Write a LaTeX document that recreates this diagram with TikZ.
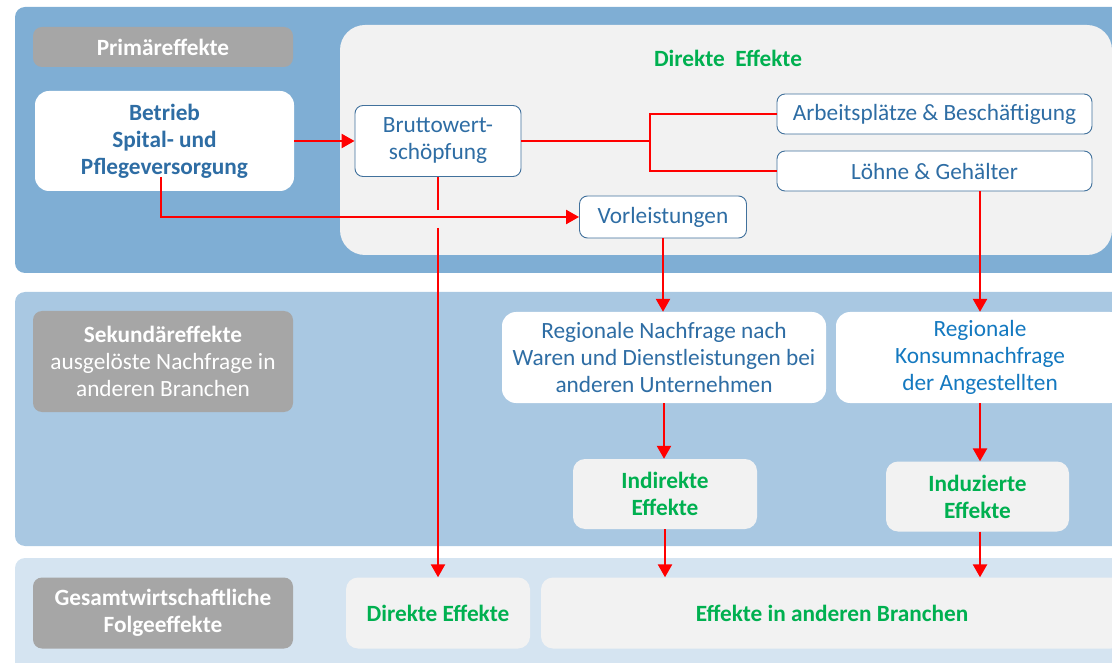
\documentclass[tikz,border=0pt]{standalone}
\usepackage{fontspec}
\setmainfont{Carlito}
\usetikzlibrary{arrows.meta}
\definecolor{bandA}{HTML}{7FAED4}
\definecolor{bandB}{HTML}{A9C8E2}
\definecolor{bandC}{HTML}{D5E4F1}
\definecolor{panelgray}{HTML}{F2F2F2}
\definecolor{lblgray}{HTML}{A6A6A6}
\definecolor{tblue}{HTML}{2E6DA4}
\definecolor{tcyan}{HTML}{1479C0}
\definecolor{tgreen}{HTML}{00B050}
\definecolor{bordblue}{HTML}{41719C}
\definecolor{arrred}{HTML}{FF0000}
\newcommand{\fsz}{\fontsize{23.3}{27}\selectfont}
\begin{document}
\begin{tikzpicture}[x=1pt,y=-1pt,
  band/.style={rounded corners=10pt},
  lbl/.style={fill=lblgray, rounded corners=9pt, text=white, font=\fsz, align=center, inner sep=0pt},
  wbox/.style={fill=white, rounded corners=14pt, align=center, inner sep=0pt, font=\fsz, text=tblue},
  bbox/.style={fill=white, draw=bordblue, line width=0.9pt, rounded corners=8pt, align=center, inner sep=0pt, font=\fsz, text=tblue},
  gbox/.style={fill=panelgray, rounded corners=12pt, align=center, inner sep=0pt, font=\fsz\bfseries, text=tgreen},
  ln/.style={draw=arrred, line width=2.5pt},
  arr/.style={draw=arrred, line width=2.5pt, -{Triangle[width=14pt,length=13pt]}}]
\useasboundingbox (0,0) rectangle (1112,663);
\clip (0,0) rectangle (1112,663);
% bands
\fill[bandA, band] (15,7) rectangle (1140,273);
\fill[bandB, band] (15,292) rectangle (1140,546);
\fill[bandC, band] (15,558) rectangle (1140,690);
\fill[panelgray, rounded corners=25pt] (340,25) rectangle (1112,255);
% labels
\node[lbl, minimum width=260pt, minimum height=40pt] (prim) at (163,47) {\bfseries Primäreffekte};
\node[lbl, minimum width=260pt, minimum height=101pt] (sek) at (163,361.5) {\textbf{Sekundäreffekte}\\ausgelöste Nachfrage in\\anderen Branchen};
\node[lbl, minimum width=260pt, minimum height=71pt] (ges) at (163,613) {\bfseries Gesamtwirtschaftliche\\\bfseries Folgeeffekte};
% primary
\node[wbox, minimum width=259pt, minimum height=100pt, font=\fsz\bfseries] (betrieb) at (164.5,141) {Betrieb\\Spital- und\\Pflegeversorgung};
\node[bbox, minimum width=166pt, minimum height=71pt] (brutto) at (438,141) {Bruttowert-\\schöpfung};
\node[font=\fsz\bfseries, text=tgreen, inner sep=0pt] (dtitle) at (728,58) {Direkte\ \ Effekte};
\node[bbox, minimum width=315pt, minimum height=40pt] (arb) at (934.5,114) {Arbeitsplätze \& Beschäftigung};
\node[bbox, minimum width=315pt, minimum height=40pt] (loehne) at (934.5,171) {Löhne \& Gehälter};
\node[bbox, minimum width=167pt, minimum height=42pt] (vorl) at (663,217) {Vorleistungen};
% secondary
\node[wbox, minimum width=324pt, minimum height=91pt] (nach) at (664,357.5) {Regionale Nachfrage nach\\Waren und Dienstleistungen bei\\anderen Unternehmen};
\node[wbox, minimum width=288pt, minimum height=91pt, text=tcyan] (kons) at (980,357.5) {Regionale\\Konsumnachfrage\\der Angestellten};
\node[gbox, minimum width=184pt, minimum height=70pt] (indir) at (665,494) {Indirekte\\Effekte};
\node[gbox, minimum width=183pt, minimum height=70pt] (induz) at (977.5,496.5) {Induzierte\\Effekte};
% totals
\node[gbox, minimum width=184pt, minimum height=71pt] (dirb) at (438,613) {Direkte Effekte};
\node[gbox, minimum width=582pt, minimum height=71pt] (ander) at (832,613) {Effekte in anderen Branchen};
% connectors
\coordinate (br) at (650,141);
\coordinate (bs) at (161,177);
\coordinate (gapA) at (438,210);
\coordinate (gapB) at (438,228);
\draw[arr] (betrieb.east) -- (brutto.west);
\draw[ln] (brutto.east) -- (br) |- (arb.west);
\draw[ln] (br) |- (loehne.west);
\draw[arr] (bs) |- (vorl.west);
\draw[ln] (brutto.south) -- (gapA);
\draw[arr] (gapB) -- (dirb.north);
\draw[arr] (vorl.south) -- (vorl.south |- nach.north);
\draw[arr] (kons.north |- loehne.south) -- (kons.north);
\draw[arr] (nach.south) -- (nach.south |- indir.north);
\draw[arr] (indir.south) -- (indir.south |- ander.north);
\draw[arr] (kons.south) -- (kons.south |- induz.north);
\draw[arr] (kons.south |- induz.south) -- (kons.south |- ander.north);
\end{tikzpicture}
\end{document}
